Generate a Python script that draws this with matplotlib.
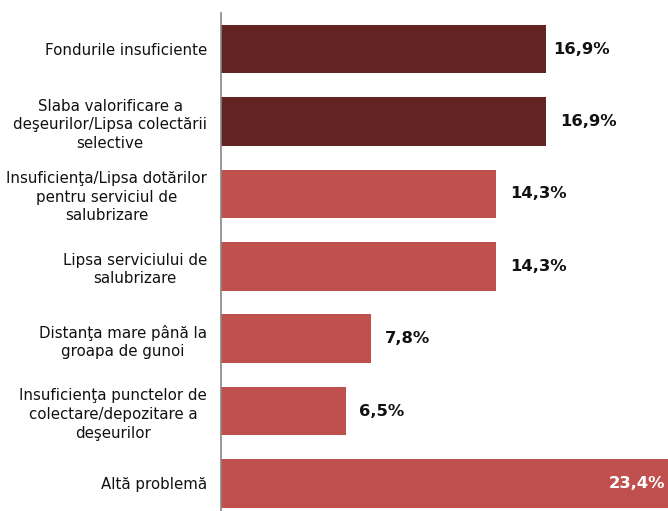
import matplotlib
matplotlib.use("Agg")
import matplotlib.pyplot as plt

categories = [
    "Fondurile insuficiente",
    "Slaba valorificare a\ndeşeurilor/Lipsa colectării\nselective",
    "Insuficienţa/Lipsa dotărilor\npentru serviciul de\nsalubrizare",
    "Lipsa serviciului de\nsalubrizare",
    "Distanţa mare până la\ngroapa de gunoi",
    "Insuficienţa punctelor de\ncolectare/depozitare a\ndeşeurilor",
    "Altă problemă",
]
values = [16.9, 16.9, 14.3, 14.3, 7.8, 6.5, 23.4]
labels = ["16,9%", "16,9%", "14,3%", "14,3%", "7,8%", "6,5%", "23,4%"]
colors = ["#632523", "#632523", "#C0504D", "#C0504D", "#C0504D", "#C0504D", "#C0504D"]

W, H = 668, 511
fig = plt.figure(figsize=(W / 100, H / 100), dpi=100)
ax = fig.add_axes([221 / W, 0, 1 - 221 / W, (511 - 13) / H])

ypos = list(range(len(categories)))
ax.barh(ypos, values, height=0.67, color=colors, zorder=2)
ax.set_xlim(0, 23.25)
ax.set_ylim(6.38, -0.5)

offsets = [7, 14, 14, 14, 14, 13]
for i, (v, lab) in enumerate(zip(values, labels)):
    if i == len(values) - 1:
        ax.text(23.1, i, lab, ha="right", va="center", color="white",
                fontsize=11.8, fontweight="bold")
    else:
        ax.annotate(lab, (v, i), xytext=(offsets[i] * 0.72, 0), textcoords="offset points",
                    ha="left", va="center", fontsize=11.8, fontweight="bold", color="#111111")

ax.set_yticks(ypos)
ax.set_yticklabels(categories, fontsize=10.8, ha="right", multialignment="center",
                   linespacing=1.3, color="#111111")
ax.tick_params(axis="y", length=0, pad=10)
ax.set_xticks([])
for s in ["top", "right", "bottom"]:
    ax.spines[s].set_visible(False)
ax.spines["left"].set_color("#868686")
ax.spines["left"].set_linewidth(1.2)

fig.savefig("out.png", dpi=100)
